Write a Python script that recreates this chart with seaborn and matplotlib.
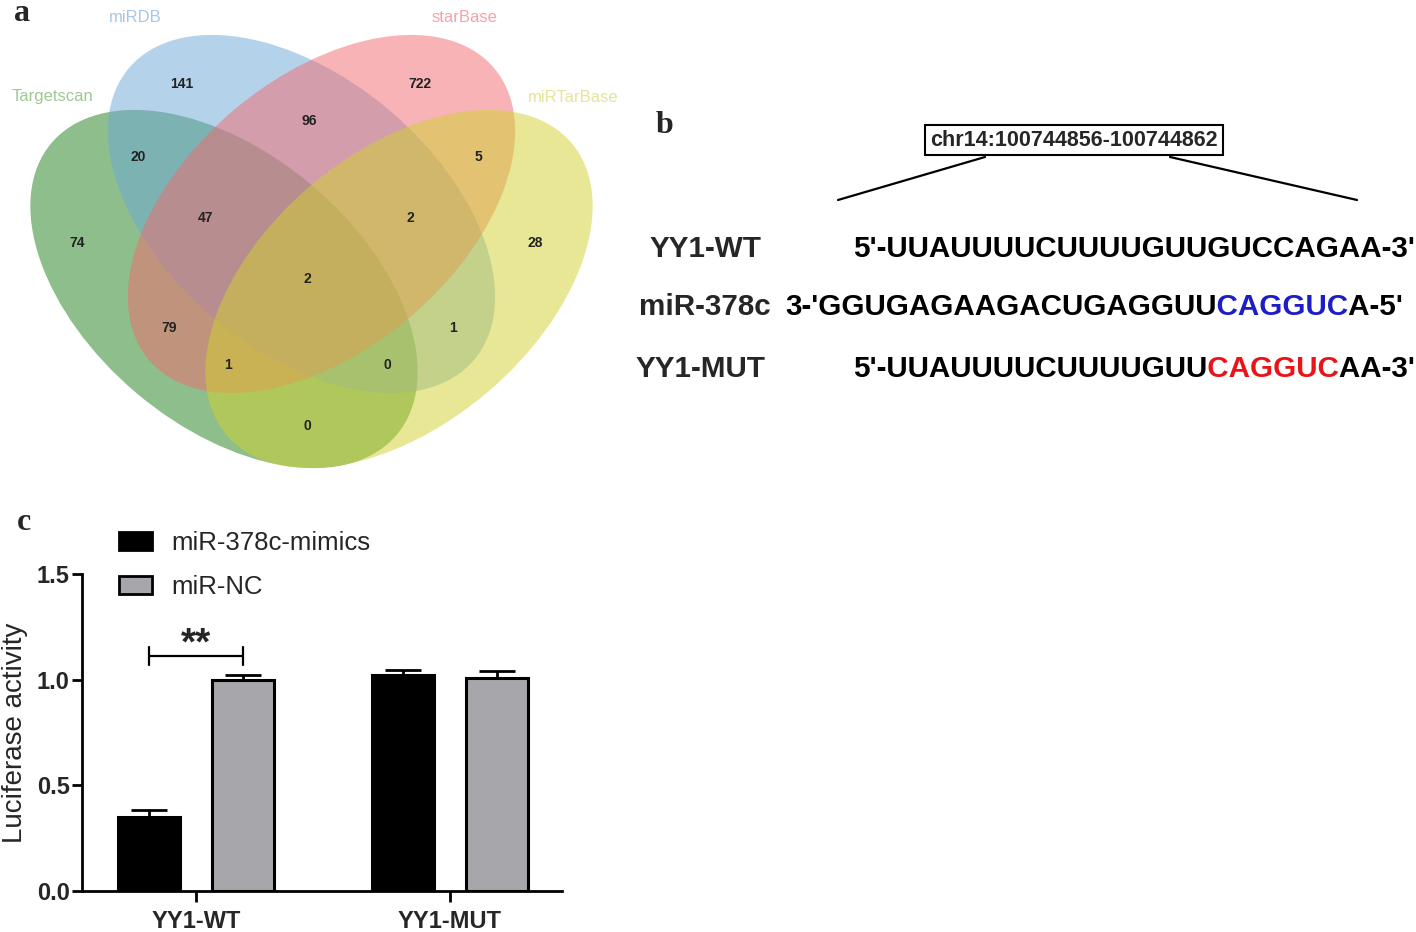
import numpy as np
import pandas as pd
import matplotlib
matplotlib.use("Agg")
import matplotlib.pyplot as plt
from matplotlib.patches import Ellipse, Patch
from matplotlib.transforms import Bbox, TransformedBbox
import seaborn as sns

# ---- data ----
set_names = ["Targetscan", "miRDB", "starBase", "miRTarBase"]
set_colors = ["#1f7f19", "#6da7d9", "#f1696f", "#d1d12d"]
label_colors = ["#9fc891", "#a9c6e8", "#f5a3a8", "#e4e49a"]
region_counts = [141, 722, 96, 20, 5, 47, 2, 74, 28, 2, 79, 1, 1, 0, 0]

groups = ["YY1-WT", "YY1-MUT"]
treatments = ["miR-378c-mimics", "miR-NC"]
mimics_vals = [0.35, 1.02]
nc_vals = [1.00, 1.01]
mimics_err = [0.032, 0.028]
nc_err = [0.02, 0.03]

wt_seq = "5'-UUAUUUUCUUUUGUUGUCCAGAA-3'"
mir_seq = ["3-'GGUGAGAAGACUGAGGUU", "CAGGUC", "A-5'"]
mut_seq = ["5'-UUAUUUUCUUUUGUU", "CAGGUC", "AA-3'"]
locus = "chr14:100744856-100744862"

sns.set_style("ticks")
plt.rcParams["font.family"] = ["Liberation Sans", "DejaVu Sans"]

fig = plt.figure(figsize=(14.16, 9.32), dpi=100)

# overlay axes in pixel coordinates (y down) for panels a, b and letters
ov = fig.add_axes([0, 0, 1, 1])
ov.set_xlim(0, 1416)
ov.set_ylim(932, 0)
ov.axis("off")

# ---- panel a: Venn ----
ell_geom = [(224, 289, 40.2), (301.5, 214, 40.2),
            (321.5, 214, -40.2), (399, 289, -40.2)]
for (cx, cy, ang), col in zip(ell_geom, set_colors):
    ov.add_patch(Ellipse((cx, cy), 452, 272, angle=ang, facecolor=col,
                         edgecolor="none", alpha=0.5))

count_pos = [(182, 84), (420, 84), (309, 121), (138, 157), (478, 157),
             (205, 218), (410, 218), (77, 243), (535, 243), (307, 279),
             (169, 328), (453, 328), (228, 365), (387, 365), (307, 426)]
for n, (x, y) in zip(region_counts, count_pos):
    ov.text(x, y, str(n), ha="center", va="center", fontsize=10,
            fontweight="bold", color="#222222")

label_pos = [(53, 97), (135, 18), (465, 18), (573, 97)]
for name, col, (x, y) in zip(set_names, label_colors, label_pos):
    ov.text(x, y, name, ha="center", va="center", fontsize=12, color=col)

# panel letters
for letter, (x, y) in zip("abc", [(22, 21), (665, 133), (24, 530)]):
    ov.text(x, y, letter, ha="center", va="baseline", fontsize=23,
            fontweight="bold", family="Liberation Serif")

# ---- panel b: sequences ----
ov.text(1074, 140, locus, ha="center", va="center", fontsize=15.5,
        fontweight="bold",
        bbox=dict(boxstyle="square,pad=0.22", fc="white", ec="black", lw=1.5))
ov.plot([985, 838], [157, 200], color="black", lw=1.6)
ov.plot([1170, 1357], [157, 200], color="black", lw=1.6)

seq_kw = dict(fontsize=21.3, fontweight="bold")
ov.text(706, 249, "YY1-WT", ha="center", va="center", **seq_kw)
ov.text(705, 307, "miR-378c", ha="center", va="center", **seq_kw)
ov.text(701, 369, "YY1-MUT", ha="center", va="center", **seq_kw)

renderer = fig.canvas.get_renderer()


def colored_seq(x, y, parts, colors):
    # draw the whole string once per colour, clipped to that colour's span
    full = "".join(parts)
    edges = [0]
    for i in range(1, len(parts)):
        probe = ov.text(x, y, "".join(parts[:i]), ha="left", va="center", **seq_kw)
        edges.append(probe.get_window_extent(renderer).x1 + 1)
        probe.remove()
    edges.append(1416)
    for c, x0, x1 in zip(colors, edges[:-1], edges[1:]):
        t = ov.text(x, y, full, color=c, ha="left", va="center", **seq_kw)
        t.set_clip_box(TransformedBbox(Bbox([[x0, 0], [x1, 932]]), ov.transData))
        t.set_clip_on(True)


colored_seq(853, 249, [wt_seq], ["black"])
colored_seq(785, 307, mir_seq, ["black", "#1c1cc8", "black"])
colored_seq(853, 369, mut_seq, ["black", "#e81418", "black"])

# ---- panel c: luciferase bars ----
bx = fig.add_axes([82 / 1416, 41 / 932, 480 / 1416, 317 / 932])
df = pd.DataFrame({
    "group": groups * 2,
    "treatment": [treatments[0]] * 2 + [treatments[1]] * 2,
    "value": mimics_vals + nc_vals,
})
pal = {treatments[0]: "black", treatments[1]: "#a7a7ab"}
sns.barplot(data=df, x="group", y="value", hue="treatment", order=groups,
            hue_order=treatments, palette=pal, width=0.74, gap=0.34,
            edgecolor="black", linewidth=2.2, errorbar=None, legend=False,
            saturation=1, ax=bx)

bars = sorted(bx.patches, key=lambda p: p.get_x())
centers = [p.get_x() + p.get_width() / 2 for p in bars]
heights = [p.get_height() for p in bars]
errs = [mimics_err[0], nc_err[0], mimics_err[1], nc_err[1]]
bx.errorbar(centers, heights, yerr=[np.zeros(4), errs], fmt="none",
            ecolor="black", elinewidth=2, capsize=13, capthick=2, zorder=1)

bx.set_xlim(-0.449, 1.441)
bx.set_ylim(0, 1.5)
bx.set_yticks([0, 0.5, 1.0, 1.5])
bx.set_yticklabels(["0.0", "0.5", "1.0", "1.5"])
bx.set_xlabel("")
bx.set_ylabel("Luciferase activity", fontsize=20)
bx.yaxis.set_label_coords(-0.113, 0.5)
for lab in bx.get_xticklabels() + bx.get_yticklabels():
    lab.set_fontweight("bold")
    lab.set_fontsize(17)
bx.tick_params(axis="y", width=2, length=7, color="black", pad=2)
bx.tick_params(axis="x", width=2, length=8, color="black", pad=6)
sns.despine(ax=bx)
for sp in ["left", "bottom"]:
    bx.spines[sp].set_linewidth(2)
    bx.spines[sp].set_color("black")

# significance bracket
bx.plot([centers[0], centers[1]], [1.112, 1.112], color="black", lw=1.6)
for cx in centers[:2]:
    bx.plot([cx, cx], [1.07, 1.155], color="black", lw=1.6)
bx.text((centers[0] + centers[1]) / 2, 1.167, "**", ha="center", va="center",
        fontsize=28, fontweight="bold")

handles = [Patch(facecolor=pal[t], edgecolor="black", linewidth=2) for t in treatments]
bx.legend(handles, treatments, loc="upper left",
          bbox_to_anchor=(119 / 1416, 1 - 531 / 932), bbox_transform=fig.transFigure,
          frameon=False, fontsize=18.5, handlelength=1.3, handleheight=0.65,
          handletextpad=0.75, labelspacing=0.78, borderpad=0, borderaxespad=0)

fig.savefig("out.png", dpi=100)
